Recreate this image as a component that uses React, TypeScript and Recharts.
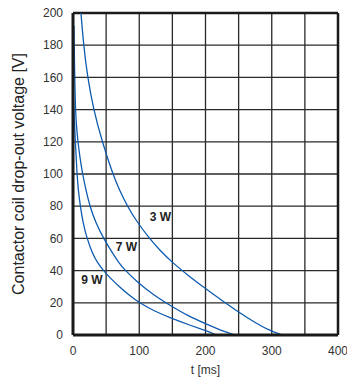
import React from 'react';
import { LineChart, Line, XAxis, YAxis, CartesianGrid, ReferenceLine, ReferenceDot } from 'recharts';

const t3W = [12, 16, 22, 31, 44, 60, 70, 82, 97, 115, 132, 150, 175, 200, 225, 250, 275, 300, 316];
const v3W = [200, 180, 160, 140, 120, 100, 90, 80, 70, 60.2, 52.2, 45, 36.6, 28.8, 21.4, 14.2, 7.6, 2.1, 0];

const t7W = [1.5, 2.2, 3.2, 5, 7.5, 10.5, 14.5, 19.5, 25.5, 34, 46, 61, 69, 79, 97, 121, 148, 173, 200, 222, 244];
const v7W = [192, 170, 146, 130, 120, 110, 100, 90, 80, 70, 60, 50, 45, 40, 33, 25, 18, 12, 7, 3, 0];

const t9W = [0.3, 1.3, 3.5, 6, 8, 11, 15, 21, 30, 37, 46, 57, 70, 84, 100, 122, 148, 177, 200, 217];
const v9W = [152, 140, 120, 100, 90, 80, 70, 60, 50, 45, 40, 35, 30, 25, 20, 15, 10.5, 6, 2.8, 0];

const seriesLabels = ['3 W', '7 W', '9 W'];
const labelT = [131.8, 80.5, 28.4];
const labelV = [73.5, 54.9, 34.2];

const xTicks = [0, 50, 100, 150, 200, 250, 300, 350, 400];
const yTicks = [0, 20, 40, 60, 80, 100, 120, 140, 160, 180, 200];

const toData = (ts: number[], vs: number[]) => ts.map((t, i) => ({ t, v: vs[i] }));
const d3 = toData(t3W, v3W);
const d7 = toData(t7W, v7W);
const d9 = toData(t9W, v9W);

const BLUE = '#0d5bb0';
const GRID = '#2a2a2a';
const FONT = '"Liberation Sans", Arial, Helvetica, sans-serif';

export default function App() {
  return (
    <div style={{ position: 'absolute', left: 0, top: 0, width: 347, height: 379, background: '#fff' }}>
      <LineChart width={347} height={379} margin={{ top: 13, right: 9, bottom: 0, left: 0 }}>
        <CartesianGrid stroke={GRID} strokeWidth={1.3} />
        <XAxis
          type="number"
          dataKey="t"
          domain={[0, 400]}
          ticks={xTicks}
          interval={0}
          tickFormatter={(v: number) => (v % 100 === 0 ? String(v) : '')}
          height={44}
          tickLine={false}
          tickSize={0}
          tickMargin={11}
          axisLine={{ stroke: '#1a1a1a', strokeWidth: 3 }}
          tick={{ fill: '#333', fontSize: 12, fontFamily: FONT }}
          label={{ value: 't [ms]', position: 'insideBottom', offset: 5, fill: '#333', fontSize: 12, fontFamily: FONT }}
        />
        <YAxis
          type="number"
          domain={[0, 200]}
          ticks={yTicks}
          interval={0}
          allowDataOverflow
          width={73}
          tickLine={false}
          tickSize={0}
          tickMargin={10}
          axisLine={{ stroke: '#1a1a1a', strokeWidth: 3 }}
          tick={{ fill: '#333', fontSize: 12, fontFamily: FONT }}
          label={{
            value: 'Contactor coil drop-out voltage [V]',
            angle: -90,
            position: 'insideLeft',
            offset: 18,
            style: { textAnchor: 'middle' },
            fill: '#222',
            fontSize: 16,
            fontFamily: FONT,
          }}
        />
        <ReferenceLine y={200} stroke="#1a1a1a" strokeWidth={2.5} />
        <ReferenceLine x={400} stroke="#1a1a1a" strokeWidth={2.5} />
        <Line data={d3} dataKey="v" type="basis" stroke={BLUE} strokeWidth={1.3} dot={false} isAnimationActive={false} />
        <Line data={d7} dataKey="v" type="basis" stroke={BLUE} strokeWidth={1.3} dot={false} isAnimationActive={false} />
        <Line data={d9} dataKey="v" type="basis" stroke={BLUE} strokeWidth={1.3} dot={false} isAnimationActive={false} />
        {seriesLabels.map((s, i) => (
          <ReferenceDot
            key={s}
            x={labelT[i]}
            y={labelV[i]}
            r={0}
            stroke="none"
            fill="none"
            label={{ value: s, position: 'center', fill: '#222', fontSize: 12, fontWeight: 'bold', fontFamily: FONT }}
          />
        ))}
      </LineChart>
    </div>
  );
}
